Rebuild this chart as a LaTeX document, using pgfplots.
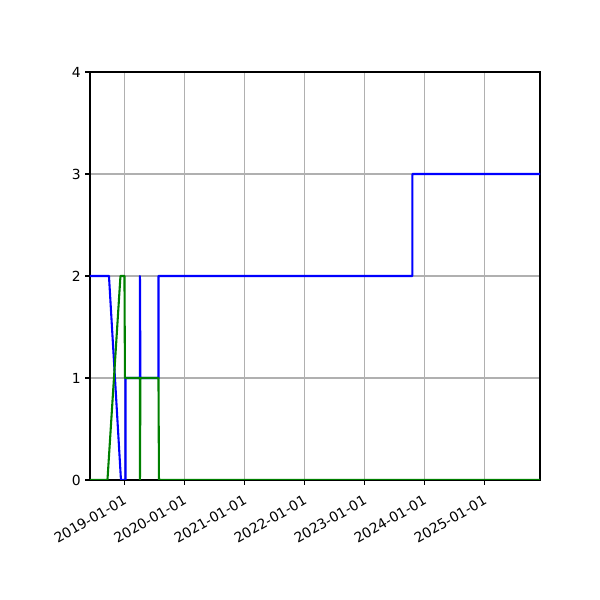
\documentclass[border=0pt]{standalone}
\usepackage{fontspec}
\setmainfont{DejaVu Sans}
\usepackage{pgfplots}
\pgfplotsset{compat=1.18}
\begin{document}
\fontsize{10bp}{12bp}\selectfont
\begin{tikzpicture}
\path[use as bounding box] (-64.8bp,-86.4bp) rectangle (367.2bp,345.6bp);
\begin{axis}[
  at={(0,0)}, anchor=south west,
  scale only axis, width=324bp, height=293.76bp,
  xmin=-211, xmax=2528, ymin=0, ymax=4,
  xtick={0,365,731,1096,1461,1826,2192},
  xticklabels={2019-01-01,2020-01-01,2021-01-01,2022-01-01,2023-01-01,2024-01-01,2025-01-01},
  ytick={0,1,2,3,4},
  xticklabel style={rotate=30, anchor=north east, inner sep=1pt, yshift=-4bp, xshift=-3.6bp},
  yticklabel style={inner sep=2bp, xshift=-1bp},
  /pgf/number format/assume math mode=true,
  tick align=outside, tick pos=left,
  major tick length=3.5bp,
  every tick/.style={black, line width=0.8bp},
  axis line style={black, line width=0.8bp},
  grid=major,
  major grid style={color={rgb,255:red,176;green,176;blue,176}, line width=0.8bp},
  ticklabel style={font=\fontsize{10bp}{12bp}\selectfont},
]
\addplot[blue, line width=1.5bp, line join=round] coordinates {
  (-211,2) (-95.6,2) (-22.5,0) (4.9,0) (4.9,1) (93,1) (93,2) (96,1)
  (205.8,1) (205.8,2) (1751,2) (1751,3) (2528,3)
};
\addplot[color={rgb,255:red,0;green,128;blue,0}, line width=1.5bp, line join=round] coordinates {
  (-211,0) (-104.7,0) (-25.6,2) (-1.2,2) (1.8,1) (93,1) (93,0) (96,1)
  (205.8,1) (208.8,0) (2528,0)
};
\end{axis}
\end{tikzpicture}
\end{document}
